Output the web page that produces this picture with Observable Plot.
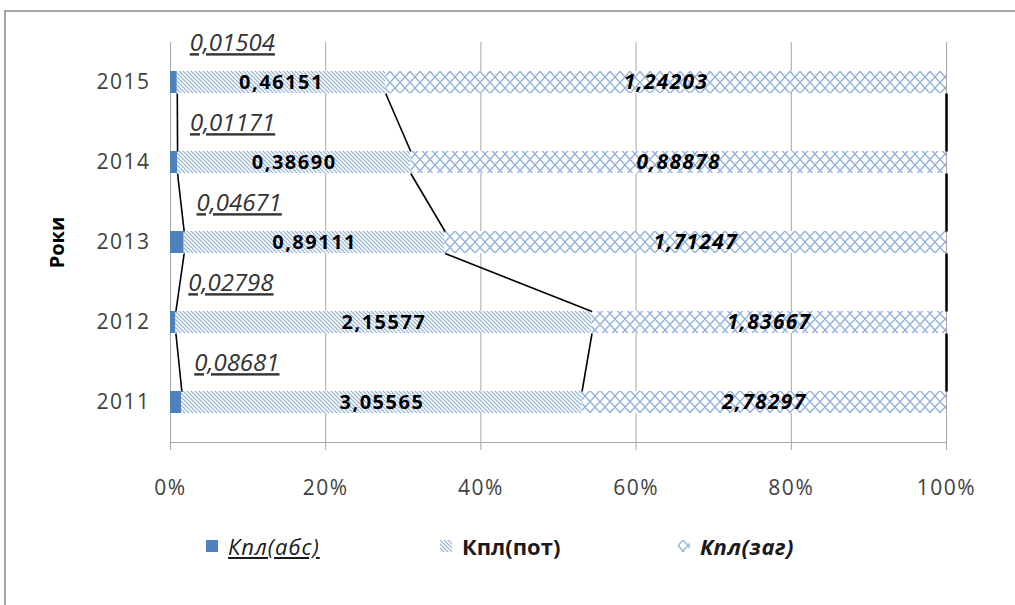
<!DOCTYPE html>
<html><head><meta charset="utf-8">
<script src="https://cdn.jsdelivr.net/npm/d3@7"></script>
<script src="https://cdn.jsdelivr.net/npm/@observablehq/plot@0.6"></script>
<style>
html,body{margin:0;padding:0;background:#fff;overflow:hidden;}
#wrap{position:relative;width:1015px;height:605px;font-family:"Open Sans",sans-serif;overflow:hidden;}
#frame{position:absolute;left:4px;top:10px;width:1100px;height:700px;border:2px solid #a6a6a6;box-sizing:border-box;}
#chart{position:absolute;left:0;top:0;}
#legend{position:absolute;top:531px;left:0;width:1015px;height:30px;}
.item{position:absolute;top:0;height:30px;display:flex;align-items:center;font-size:22px;color:#1a1a1a;white-space:nowrap;}
.item svg{margin-right:10px;}
g[aria-label="x-axis tick label"] text, g[aria-label="y-axis tick label"] text{letter-spacing:1.5px;}
</style>
</head><body>
<svg width="0" height="0" style="position:absolute">
<defs>
<pattern id="pot" patternUnits="userSpaceOnUse" width="4" height="4">
<rect width="4" height="4" fill="#fff"/>
<path d="M-1,-1 L5,5 M3,-1 L5,1 M-1,3 L1,5" stroke="#8fb0dc" stroke-width="1.2"/>
</pattern>
<pattern id="zag" patternUnits="userSpaceOnUse" width="10" height="11">
<rect width="10" height="11" fill="#fff"/>
<path d="M0,5.5 L5,0 L10,5.5 L5,11 Z" fill="none" stroke="#8fb0dc" stroke-width="1.3"/>
</pattern>
</defs></svg>
<div id="wrap">
<div id="frame"></div>
<div id="chart"></div>
<div id="legend"></div>
</div>
<script>
// ---- data ----
const years = [2011, 2012, 2013, 2014, 2015];
const absVals = [0.08681, 0.02798, 0.04671, 0.01171, 0.01504];
const potVals = [3.05565, 2.15577, 0.89111, 0.38690, 0.46151];
const zagVals = [2.78297, 1.83667, 1.71247, 0.88878, 1.24203];
const seriesNames = ["Кпл(абс)", "Кпл(пот)", "Кпл(заг)"];
const xTicks = [0, 0.2, 0.4, 0.6, 0.8, 1];
const axisTitle = "Роки";

// ---- styles ----
const fills = ["#4f81bd", "url(#pot)", "url(#zag)"];
const halfBar = 0.1375; // half bar thickness in band units

const seriesVals = [absVals, potVals, zagVals];
const rows = [];
years.forEach((yr, i) => {
  const total = absVals[i] + potVals[i] + zagVals[i];
  let acc = 0;
  seriesVals.forEach((vals, s) => {
    const x1 = acc / total; acc += vals[i]; const x2 = acc / total;
    rows.push({year: yr, s, series: seriesNames[s], value: vals[i], x1, x2, xm: (x1 + x2) / 2, fill: fills[s]});
  });
});
const links = [];
for (let s = 0; s < 3; s++) {
  for (let i = years.length - 1; i > 0; i--) {
    const a = rows.find(d => d.year === years[i] && d.s === s);
    const b = rows.find(d => d.year === years[i - 1] && d.s === s);
    links.push({x1: a.x2, y1: a.year - halfBar, x2: b.x2, y2: b.year + halfBar, s});
  }
}
const fmt = v => v.toFixed(5).replace(".", ",");
const yDomain = [d3.min(years) - 0.5, d3.max(years) + 0.5];

const chart = Plot.plot({
  width: 1015, height: 510,
  marginLeft: 170, marginRight: 69, marginTop: 42, marginBottom: 68,
  x: {domain: [0, 1]},
  y: {domain: yDomain},
  color: {type: "identity"},
  style: {fontFamily: "Open Sans", fontSize: "21px", background: "transparent", overflow: "visible"},
  marks: [
    Plot.gridX(xTicks, {stroke: "#a6a6a6", strokeOpacity: 1, strokeWidth: 1}),
    Plot.ruleY([yDomain[0]], {stroke: "#a6a6a6", strokeWidth: 1}),
    Plot.axisX({ticks: xTicks, tickFormat: d3.format(".0%"), tickSize: 8, tickPadding: 30, stroke: "#a6a6a6", fill: "#404040", fontSize: 21, label: null}),
    Plot.axisY({ticks: years, tickFormat: d => String(d), tickSize: 0, tickPadding: 20, fill: "#404040", fontSize: 21, label: null}),
    Plot.rectX(rows, {x1: "x1", x2: "x2", y1: d => d.year - halfBar, y2: d => d.year + halfBar, fill: "fill"}),
    Plot.link(links, {x1: "x1", y1: "y1", x2: "x2", y2: "y2", stroke: "#000", strokeWidth: d => d.s === 2 ? 2.5 : 1.6}),
    Plot.text(rows.filter(d => d.s === 0), {x: "x2", y: "year", dx: 55, dy: -39, text: d => fmt(d.value), fontStyle: "italic", fontSize: 24, fill: "#333"}),
    Plot.text(rows.filter(d => d.s === 1), {x: "xm", y: "year", text: d => fmt(d.value), fontWeight: "bold", fontSize: 20, fill: "#000"}),
    Plot.text(rows.filter(d => d.s === 2), {x: "xm", y: "year", text: d => fmt(d.value), fontWeight: "bold", fontStyle: "italic", fontSize: 21, fill: "#000"}),
    Plot.text([axisTitle], {frameAnchor: "left", text: d => d, rotate: -90, dx: -113, textAnchor: "middle", fontWeight: "bold", fontSize: 20, fill: "#000"})
  ]
});
document.getElementById("chart").appendChild(chart);

// the four text-mark groups, in mark order: abs, pot, zag, axis title
const textGroups = chart.querySelectorAll('g[aria-label="text"]');
const absG = textGroups[0], potG = textGroups[1], zagG = textGroups[2];
potG.querySelectorAll("text").forEach(t => t.style.letterSpacing = "1.5px");
zagG.querySelectorAll("text").forEach(t => t.style.letterSpacing = "1.3px");
absG.querySelectorAll("text").forEach(t => {
  t.style.textDecoration = "underline";
  t.setAttribute("text-decoration", "underline");
});

// ---- legend ----
const legendPos = [{sw: 206, style: "font-style:italic;text-decoration:underline;letter-spacing:1px;"},
                   {sw: 440, style: "font-weight:bold;"},
                   {sw: 678, style: "font-weight:bold;font-style:italic;letter-spacing:0.5px;"}];
const legend = document.getElementById("legend");
seriesNames.forEach((name, s) => {
  const item = document.createElement("div");
  item.className = "item";
  item.style.left = legendPos[s].sw + "px";
  item.innerHTML = `<svg width="12" height="12"><rect width="12" height="12" fill="${fills[s]}"/></svg><span style="${legendPos[s].style}">${name}</span>`;
  legend.appendChild(item);
});
</script>
</body></html>
